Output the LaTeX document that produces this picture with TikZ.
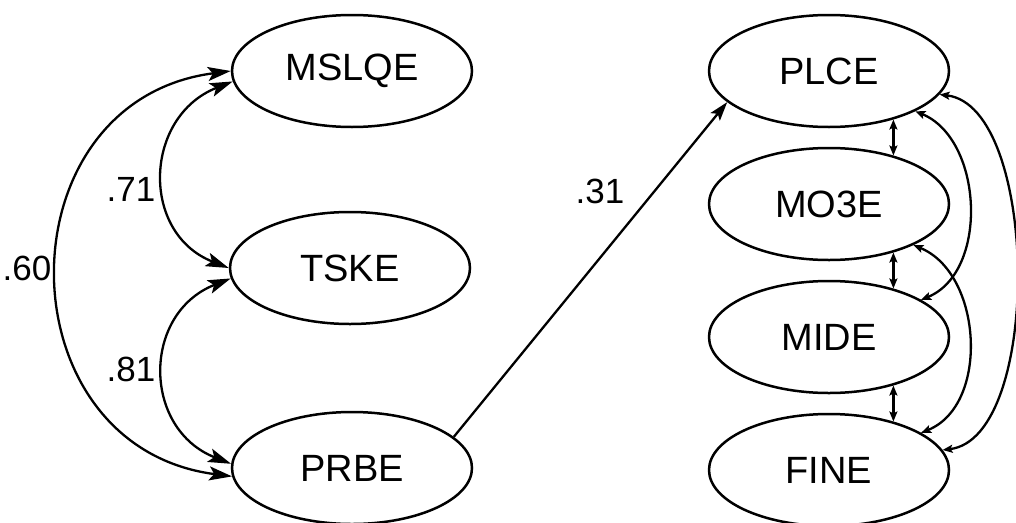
\documentclass[tikz,border=0pt]{standalone}
\usepackage{fontspec}
\setmainfont{Liberation Sans}
\usetikzlibrary{shapes.geometric,arrows.meta}
\begin{document}
\begin{tikzpicture}[x=1pt,y=-1pt,
  latent/.style={ellipse, draw, line width=2.5pt, minimum width=240pt,
    minimum height=112pt, inner sep=0pt, font=\fontsize{38}{40}\selectfont},
  coef/.style={inner sep=0pt, font=\fontsize{35}{37}\selectfont},
  bigtip/.tip={Stealth[length=23pt,width=14pt,inset=5pt]},
  smalltip/.tip={Stealth[length=10pt,width=8pt,inset=2pt]},
  bigcov/.style={line width=2.3pt, bigtip-bigtip},
  smallcov/.style={line width=2.3pt, smalltip-smalltip},
  regress/.style={line width=2.3pt, -{Stealth[length=19pt,width=12pt,inset=4pt]}}]
\useasboundingbox (0,0) rectangle (1016,522);

% exogenous factors
\node[latent] (mslqe) at (352,71)  {MSLQE};
\node[latent] (tske)  at (350,268) {TSKE};
\node[latent] (prbe)  at (352,468) {PRBE};

% endogenous factors
\node[latent] (plce) at (829,71)  {PLCE};
\node[latent] (mo3e) at (829,204) {MO3E};
\node[latent] (mide) at (829,337) {MIDE};
\node[latent] (fine) at (829,470) {FINE};

% covariances among the exogenous factors
\draw[bigcov] (mslqe.180) .. controls +(-231,30) and +(-231,-30) .. (prbe.184);
\draw[bigcov] (mslqe.185) .. controls +(-89,35) and +(-89,-35) .. (tske.180);
\draw[bigcov] (tske.185) .. controls +(-89,35) and +(-89,-35) .. (prbe.178);

\node[coef] (c60) at (27,268)  {.60};
\node[coef] (c71) at (131,189) {.71};
\node[coef] (c81) at (131,369) {.81};

% structural path
\draw[regress] (prbe.17) -- (plce.197);
\node[coef] (c31) at (600,191) {.31};

% residual covariances among the endogenous factors
\draw[smallcov] (plce.-37) -- (mo3e.37);
\draw[smallcov] (mo3e.-37) -- (mide.37);
\draw[smallcov] (mide.-37) -- (fine.37);
\draw[smallcov] (plce.-25) .. controls +(68,28) and +(68,-28) .. (mide.22);
\draw[smallcov] (mo3e.-26) .. controls +(69,28) and +(69,-28) .. (fine.22);
\draw[smallcov] (plce.-12) .. controls +(100,12) and +(100,-12) .. (fine.10);
\end{tikzpicture}
\end{document}
